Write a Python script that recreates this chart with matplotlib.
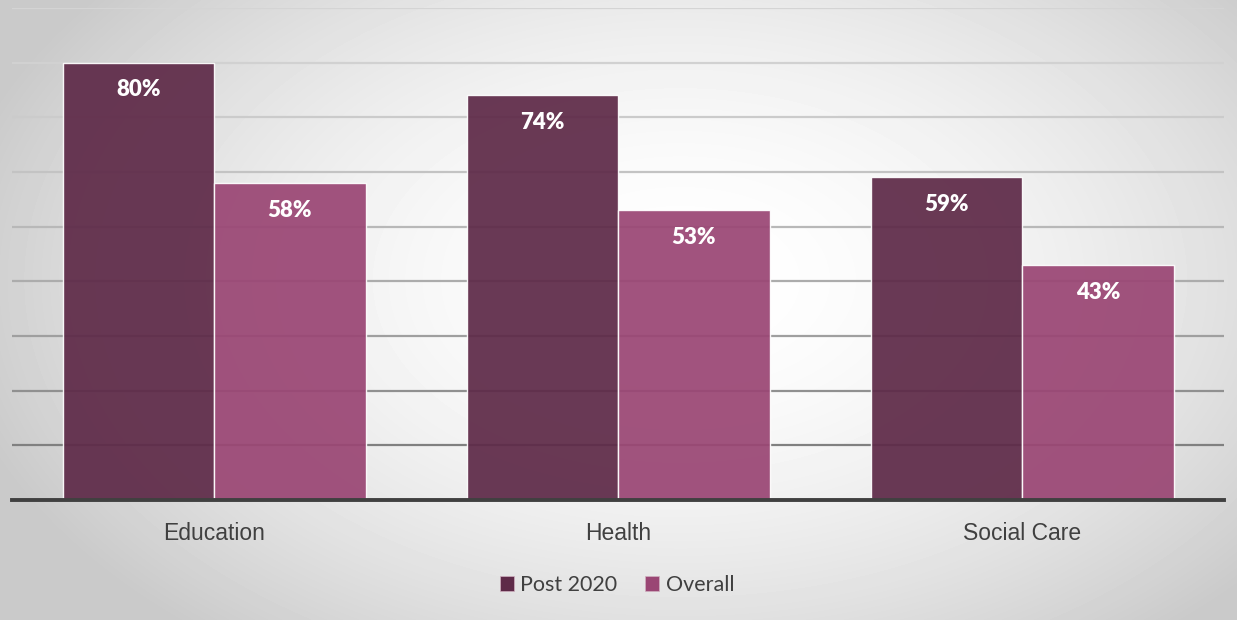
import matplotlib.pyplot as plt
import numpy as np
from matplotlib.colors import to_rgb
from matplotlib.patches import Patch

categories = ['Education', 'Health', 'Social Care']
post_2020 = [80, 74, 59]
overall = [58, 53, 43]
series_names = ['Post 2020', 'Overall']

c_post = '#5e2a48'
c_overall = '#9a4674'

fig = plt.figure(figsize=(12.37, 6.2), dpi=100)

# radial grey-to-white backdrop
bg = fig.add_axes([0, 0, 1, 1], zorder=-10)
yy, xx = np.mgrid[0:620, 0:1237]
r = np.sqrt(((xx - 680) / 800.0) ** 2 + ((yy - 280) / 500.0) ** 2)
shade = np.clip(1.0 - 0.24 * r ** 1.8, 0.79, 1.0)
bg.imshow(shade, cmap='gray', vmin=0, vmax=1, aspect='auto', extent=[0, 1, 0, 1])
bg.axis('off')

ax = fig.add_axes([12 / 1237, 120 / 620, 1212 / 1237, 492 / 620])
ax.patch.set_alpha(0)
ax.set_ylim(0, 90)
x = np.arange(len(categories))
ax.set_xlim(-0.5, len(categories) - 0.5)

# gridlines darken towards the baseline
top_c = np.array(to_rgb('#d4d4d4'))
bot_c = np.array(to_rgb('#808080'))
for v in range(10, 91, 10):
    t = ((90 - v) / 80.0) ** 1.6
    ax.axhline(v, color=top_c + (bot_c - top_c) * t, lw=1.6, zorder=0)

w = 0.375
b1 = ax.bar(x - w / 2, post_2020, w, color=c_post, alpha=0.93,
            edgecolor='white', linewidth=1.0, zorder=2)
b2 = ax.bar(x + w / 2, overall, w, color=c_overall, alpha=0.93,
            edgecolor='white', linewidth=1.0, zorder=2)

for bars, vals in [(b1, post_2020), (b2, overall)]:
    for bar, v in zip(bars, vals):
        ax.annotate(f'{v}%', (bar.get_x() + bar.get_width() / 2, v),
                    xytext=(0, -19.5), textcoords='offset points',
                    ha='center', va='center', color='white',
                    fontsize=16, fontweight='heavy', family='Lato', zorder=3)

ax.axhline(0, color='#404040', lw=2.8, zorder=4, clip_on=False)

for s in ax.spines.values():
    s.set_visible(False)
ax.set_yticks([])
ax.set_xticks(x)
ax.set_xticklabels(categories, family='Liberation Sans', fontsize=16.5, color='#404040')
ax.tick_params(axis='x', length=0, pad=16)

handles = [Patch(facecolor=c_post, edgecolor='#d0b0c0', lw=0.5),
           Patch(facecolor=c_overall, edgecolor='#d0b0c0', lw=0.5)]
fig.legend(handles, series_names, loc='center', bbox_to_anchor=(617 / 1237, 1 - 585 / 620),
           ncol=2, frameon=False, prop={'family': 'Lato', 'size': 15.5},
           labelcolor='#404040', handlelength=0.65, handleheight=0.65,
           handletextpad=0.3, columnspacing=1.3)

fig.savefig('out.png', dpi=100)
